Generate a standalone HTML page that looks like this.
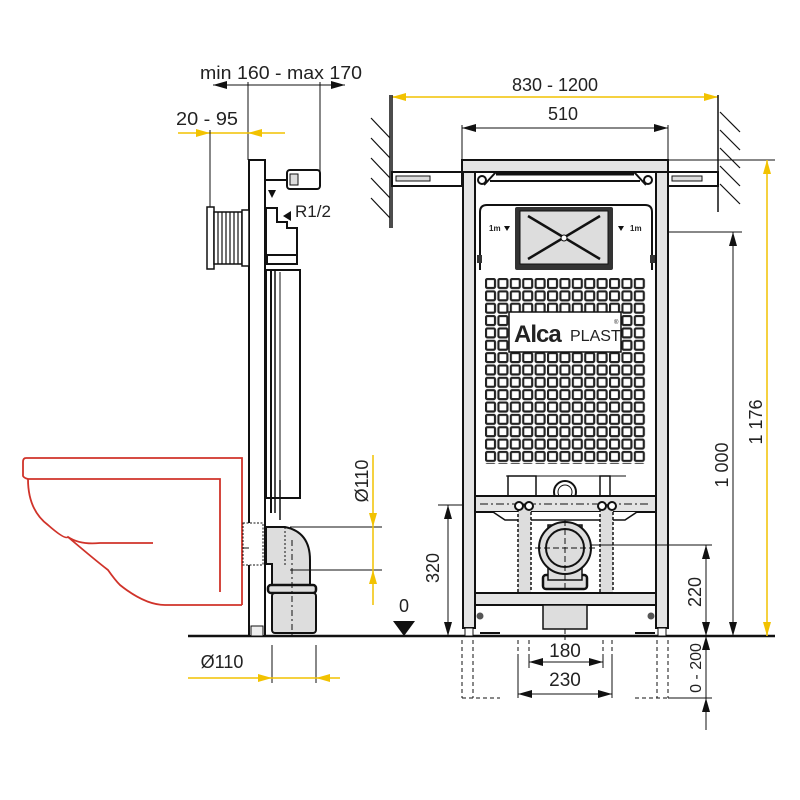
<!DOCTYPE html>
<html><head><meta charset="utf-8"><style>
html,body{margin:0;padding:0;background:#fff}
svg{display:block}
text{font-family:"Liberation Sans",sans-serif;fill:#222}
</style></head><body>
<svg width="800" height="800" viewBox="0 0 800 800" xmlns="http://www.w3.org/2000/svg">
<defs>
<pattern id="sq" x="485" y="278" width="12.4" height="12.35" patternUnits="userSpaceOnUse">
<rect x="1" y="1" width="9" height="9" rx="1.5" fill="#fff" stroke="#222" stroke-width="2.2"/>
</pattern>
<marker id="ab" markerWidth="14" markerHeight="8" refX="14" refY="4" orient="auto" markerUnits="userSpaceOnUse"><path d="M0,0 L14,4 L0,8 Z" fill="#111"/></marker>
<marker id="ay" markerWidth="14" markerHeight="8" refX="14" refY="4" orient="auto" markerUnits="userSpaceOnUse"><path d="M0,0 L14,4 L0,8 Z" fill="#f2c200"/></marker>
</defs>

<line x1="188" y1="636" x2="775" y2="636" stroke="#111" stroke-width="2.5"/>

<!-- ===== SIDE VIEW ===== -->
<text x="200" y="79" font-size="18" textLength="162" lengthAdjust="spacingAndGlyphs">min 160 - max 170</text>
<line x1="213" y1="85" x2="345" y2="85" stroke="#111"/>
<line x1="248" y1="85" x2="213" y2="85" stroke="#111" marker-end="url(#ab)"/>
<line x1="320" y1="85" x2="345" y2="85" stroke="#111" marker-end="url(#ab)"/>
<line x1="248" y1="82" x2="248" y2="160" stroke="#111"/>
<line x1="320" y1="82" x2="320" y2="175" stroke="#111"/>
<text x="176" y="125" font-size="18" textLength="62" lengthAdjust="spacingAndGlyphs">20 - 95</text>
<line x1="178" y1="133" x2="285" y2="133" stroke="#f2c200" stroke-width="1.5"/>
<line x1="185" y1="133" x2="210" y2="133" stroke="#f2c200" marker-end="url(#ay)"/>
<line x1="285" y1="133" x2="248" y2="133" stroke="#f2c200" marker-end="url(#ay)"/>
<line x1="210" y1="130" x2="210" y2="207" stroke="#111"/>

<rect x="249" y="160" width="16" height="476" fill="#fff" stroke="#111" stroke-width="2"/>
<rect x="251" y="626" width="12" height="10" fill="#eee" stroke="#111"/>
<rect x="207" y="207" width="7" height="62" fill="#fff" stroke="#111" stroke-width="1.5"/>
<rect x="214" y="212" width="28" height="52" fill="#fff" stroke="#111" stroke-width="1.5"/>
<g stroke="#111" stroke-width="1.2">
<line x1="218" y1="212" x2="218" y2="264"/><line x1="222" y1="212" x2="222" y2="264"/><line x1="226" y1="212" x2="226" y2="264"/><line x1="230" y1="212" x2="230" y2="264"/><line x1="234" y1="212" x2="234" y2="264"/><line x1="238" y1="212" x2="238" y2="264"/>
</g>
<rect x="242" y="210" width="7" height="56" fill="#fff" stroke="#111" stroke-width="1.5"/>
<line x1="265" y1="180" x2="287" y2="180" stroke="#111" stroke-width="2"/>
<rect x="287" y="170" width="33" height="19" rx="3" fill="#fff" stroke="#111" stroke-width="2"/>
<rect x="290" y="174" width="8" height="11" fill="#ddd" stroke="#111"/>
<path d="M266,208 H277 V222 H287 V228 H297 V262 H266 Z" fill="#fff" stroke="#111" stroke-width="2"/>
<path d="M268,190 L276,190 L272,198 Z" fill="#111"/>
<path d="M283,216 L291,211 L291,221 Z" fill="#111"/>
<text x="295" y="217" font-size="17">R1/2</text>
<rect x="267" y="255" width="30" height="9" fill="#fff" stroke="#111" stroke-width="2"/>
<rect x="266" y="270" width="34" height="228" fill="#fff" stroke="#111" stroke-width="2"/>
<line x1="271" y1="270" x2="271" y2="513" stroke="#111" stroke-width="2"/>
<line x1="275" y1="270" x2="275" y2="513" stroke="#111" stroke-width="1.5"/>
<line x1="280" y1="272" x2="280" y2="505" stroke="#111" stroke-width="1"/>
<line x1="390" y1="95" x2="390" y2="228" stroke="#111" stroke-width="1.5"/>
<g stroke="#111" stroke-width="1.2">
<line x1="371" y1="118" x2="390" y2="138"/><line x1="371" y1="138" x2="390" y2="158"/><line x1="371" y1="158" x2="390" y2="178"/><line x1="371" y1="178" x2="390" y2="198"/><line x1="371" y1="198" x2="390" y2="218"/>
</g>

<g fill="none" stroke="#d0332a" stroke-width="1.8">
<path d="M242,605 V458 H26 Q23,458 23,462 V476 Q24,478 28,479"/>
<path d="M28,479 H220 V592"/>
<path d="M28,479 Q28,510 48,525 Q65,540 68,537 Q95,560 108,570 Q115,580 120,585 Q145,605 165,605 H242"/>
<path d="M68,537 Q80,545 100,543 H153"/>
</g>

<g stroke="#111">
<rect x="243" y="523" width="20" height="42" fill="#fff" stroke-dasharray="2,1.5"/>
<line x1="243" y1="548" x2="249" y2="548"/>
<path d="M266,527 H285 Q310,532 310,560 V585 H272 V564 H266 Z" fill="#ddd" stroke-width="2"/>
<rect x="268" y="585" width="48" height="8" rx="3" fill="#ddd" stroke-width="2.5"/>
<rect x="272" y="593" width="44" height="40" rx="3" fill="#ddd" stroke-width="2"/>
<line x1="292" y1="540" x2="292" y2="636" stroke-dasharray="6,3,2,3"/>
<line x1="285" y1="527" x2="285" y2="565" stroke-dasharray="2,2"/>
</g>
<line x1="280" y1="480" x2="280" y2="520" stroke="#111" stroke-width="1.5"/>
<line x1="290" y1="527" x2="382" y2="527" stroke="#111"/>
<line x1="290" y1="570" x2="382" y2="570" stroke="#111"/>
<line x1="373" y1="455" x2="373" y2="605" stroke="#f2c200" stroke-width="1.5"/>
<line x1="373" y1="505" x2="373" y2="527" stroke="#f2c200" marker-end="url(#ay)"/>
<line x1="373" y1="595" x2="373" y2="570" stroke="#f2c200" marker-end="url(#ay)"/>
<text transform="translate(368,481) rotate(-90)" font-size="18" text-anchor="middle">Ø110</text>
<text x="404" y="612" font-size="18" text-anchor="middle">0</text>
<path d="M393,621 L415,621 L404,636 Z" fill="#111"/>
<text x="222" y="668" font-size="18" text-anchor="middle">Ø110</text>
<line x1="272" y1="645" x2="272" y2="683" stroke="#111"/>
<line x1="316" y1="645" x2="316" y2="683" stroke="#111"/>
<line x1="188" y1="678" x2="340" y2="678" stroke="#f2c200" stroke-width="1.5"/>
<line x1="250" y1="678" x2="272" y2="678" stroke="#f2c200" marker-end="url(#ay)"/>
<line x1="340" y1="678" x2="316" y2="678" stroke="#f2c200" marker-end="url(#ay)"/>

<!-- ===== FRONT VIEW ===== -->
<text x="555" y="91" font-size="18" text-anchor="middle">830 - 1200</text>
<line x1="392" y1="97" x2="718" y2="97" stroke="#f2c200" stroke-width="1.5"/>
<line x1="420" y1="97" x2="392" y2="97" stroke="#f2c200" marker-end="url(#ay)"/>
<line x1="690" y1="97" x2="718" y2="97" stroke="#f2c200" marker-end="url(#ay)"/>
<text x="563" y="120" font-size="18" text-anchor="middle">510</text>
<line x1="462" y1="128" x2="668" y2="128" stroke="#111"/>
<line x1="490" y1="128" x2="462" y2="128" stroke="#111" marker-end="url(#ab)"/>
<line x1="640" y1="128" x2="668" y2="128" stroke="#111" marker-end="url(#ab)"/>
<line x1="462" y1="125" x2="462" y2="160" stroke="#111"/>
<line x1="668" y1="125" x2="668" y2="160" stroke="#111"/>
<line x1="392" y1="95" x2="392" y2="228" stroke="#111" stroke-width="1.5"/>
<line x1="718" y1="95" x2="718" y2="212" stroke="#111" stroke-width="1.5"/>
<g stroke="#111" stroke-width="1.2">
<line x1="720" y1="112" x2="740" y2="132"/><line x1="720" y1="130" x2="740" y2="150"/><line x1="720" y1="148" x2="740" y2="168"/><line x1="720" y1="166" x2="740" y2="186"/><line x1="720" y1="184" x2="740" y2="204"/>
</g>
<rect x="392" y="172" width="70" height="14" fill="#fff" stroke="#111" stroke-width="2"/>
<rect x="396" y="176" width="34" height="5" fill="#ddd" stroke="#111"/>
<rect x="668" y="172" width="50" height="14" fill="#fff" stroke="#111" stroke-width="2"/>
<rect x="672" y="176" width="30" height="5" fill="#ddd" stroke="#111"/>
<rect x="462" y="160" width="206" height="12" fill="#e4e4e4" stroke="#111" stroke-width="2"/>
<rect x="463" y="172" width="12" height="456" fill="#e4e4e4" stroke="#111" stroke-width="2"/>
<rect x="656" y="172" width="12" height="456" fill="#e4e4e4" stroke="#111" stroke-width="2"/>
<rect x="465" y="628" width="8" height="8" fill="#fff" stroke="#111"/>
<rect x="658" y="628" width="8" height="8" fill="#fff" stroke="#111"/>
<path d="M496,172 L484,185 M634,172 L646,185" stroke="#111" stroke-width="2"/>
<line x1="496" y1="174" x2="634" y2="174" stroke="#111" stroke-width="3"/>
<line x1="490" y1="181" x2="640" y2="181" stroke="#111" stroke-width="2"/>
<circle cx="482" cy="180" r="4" fill="#fff" stroke="#111" stroke-width="2"/>
<circle cx="648" cy="180" r="4" fill="#fff" stroke="#111" stroke-width="2"/>
<path d="M480,270 V212 Q480,205 487,205 H645 Q652,205 652,212 V270" fill="#fff" stroke="#111" stroke-width="2"/>
<rect x="515" y="207" width="98" height="63" fill="#333" rx="2"/>
<rect x="520" y="211" width="88" height="53" fill="#ddd" stroke="#111"/>
<line x1="528" y1="216" x2="600" y2="259" stroke="#111" stroke-width="2.5"/>
<line x1="600" y1="216" x2="528" y2="259" stroke="#111" stroke-width="2.5"/>
<circle cx="564" cy="238" r="3" fill="#fff" stroke="#111"/>
<text x="489" y="231" font-size="8" font-weight="bold">1m</text>
<text x="630" y="231" font-size="8" font-weight="bold">1m</text>
<path d="M618,226 L624,226 L621,231 Z M504,226 L510,226 L507,231 Z" fill="#111"/>
<rect x="477" y="255" width="5" height="8" fill="#333"/>
<rect x="650" y="255" width="5" height="8" fill="#333"/>
<rect x="485" y="278" width="161" height="186" fill="url(#sq)"/>
<rect x="509" y="312" width="112" height="40" fill="#fff" stroke="#111" stroke-width="1.5"/>
<text x="514" y="342" font-size="24" font-weight="bold" letter-spacing="-1">Alca</text>
<text x="570" y="341" font-size="16">PLAST</text>
<text x="614" y="324" font-size="6">®</text>
<rect x="508" y="476" width="28" height="20" fill="#fff" stroke="#111" stroke-width="1.5"/>
<rect x="600" y="476" width="10" height="20" fill="#fff" stroke="#111" stroke-width="1.5"/>
<line x1="506" y1="476" x2="626" y2="476" stroke="#111"/>
<circle cx="565" cy="492" r="11" fill="#fff" stroke="#111" stroke-width="2"/>
<circle cx="565" cy="492" r="7" fill="#fff" stroke="#111"/>
<rect x="475" y="496" width="181" height="16" fill="#e4e4e4" stroke="#111" stroke-width="2"/>
<path d="M493,512 L505,520 H625 L637,512" fill="#fff" stroke="#111" stroke-width="1.5"/>
<line x1="480" y1="504" x2="650" y2="504" stroke="#111" stroke-dasharray="8,3,2,3"/>
<rect x="518" y="505" width="13" height="88" fill="#ddd" stroke="#111" stroke-width="1.5" stroke-dasharray="3,2"/>
<rect x="600" y="505" width="13" height="88" fill="#ddd" stroke="#111" stroke-width="1.5" stroke-dasharray="3,2"/>
<g fill="#fff" stroke="#111" stroke-width="2">
<circle cx="519" cy="506" r="4"/><circle cx="529" cy="506" r="4"/><circle cx="602" cy="506" r="4"/><circle cx="612" cy="506" r="4"/>
</g>
<rect x="543" y="575" width="44" height="14" rx="3" fill="#ddd" stroke="#111" stroke-width="2.5"/>
<rect x="548" y="525" width="34" height="55" fill="#ddd" stroke="#111" stroke-width="1.5"/>
<circle cx="565" cy="548" r="26" fill="#ddd" stroke="#111" stroke-width="2"/>
<circle cx="565" cy="548" r="19" fill="#ddd" stroke="#111" stroke-width="2"/>
<line x1="535" y1="548" x2="595" y2="548" stroke="#111" stroke-dasharray="6,3"/>
<line x1="565" y1="520" x2="565" y2="640" stroke="#111" stroke-dasharray="6,3"/>
<rect x="475" y="593" width="181" height="12" fill="#e4e4e4" stroke="#111" stroke-width="2"/>
<rect x="543" y="605" width="44" height="24" fill="#ddd" stroke="#111" stroke-width="1.5"/>
<circle cx="480" cy="616" r="3.5" fill="#555"/><circle cx="651" cy="616" r="3.5" fill="#555"/>
<line x1="480" y1="633" x2="500" y2="633" stroke="#111" stroke-width="2"/>
<line x1="635" y1="633" x2="655" y2="633" stroke="#111" stroke-width="2"/>

<line x1="438" y1="505" x2="463" y2="505" stroke="#111"/>
<line x1="448" y1="505" x2="448" y2="636" stroke="#111"/>
<line x1="448" y1="530" x2="448" y2="505" stroke="#111" marker-end="url(#ab)"/>
<line x1="448" y1="610" x2="448" y2="636" stroke="#111" marker-end="url(#ab)"/>
<text transform="translate(439,568) rotate(-90)" font-size="18" text-anchor="middle">320</text>

<g stroke="#111" stroke-dasharray="4,3">
<line x1="462" y1="640" x2="462" y2="698"/><line x1="473" y1="640" x2="473" y2="698"/>
<line x1="657" y1="640" x2="657" y2="698"/><line x1="668" y1="640" x2="668" y2="698"/>
<line x1="462" y1="698" x2="500" y2="698"/><line x1="635" y1="698" x2="668" y2="698"/>
<line x1="518" y1="640" x2="518" y2="655"/><line x1="529" y1="640" x2="529" y2="655"/>
<line x1="603" y1="640" x2="603" y2="655"/><line x1="612" y1="640" x2="612" y2="655"/>
</g>
<line x1="529" y1="655" x2="529" y2="668" stroke="#111"/>
<line x1="603" y1="655" x2="603" y2="668" stroke="#111"/>
<line x1="518" y1="655" x2="518" y2="698" stroke="#111"/>
<line x1="612" y1="655" x2="612" y2="698" stroke="#111"/>
<text x="565" y="657" font-size="19" text-anchor="middle">180</text>
<line x1="529" y1="662" x2="603" y2="662" stroke="#111"/>
<line x1="555" y1="662" x2="529" y2="662" stroke="#111" marker-end="url(#ab)"/>
<line x1="577" y1="662" x2="603" y2="662" stroke="#111" marker-end="url(#ab)"/>
<text x="565" y="686" font-size="19" text-anchor="middle">230</text>
<line x1="518" y1="694" x2="612" y2="694" stroke="#111"/>
<line x1="545" y1="694" x2="518" y2="694" stroke="#111" marker-end="url(#ab)"/>
<line x1="585" y1="694" x2="612" y2="694" stroke="#111" marker-end="url(#ab)"/>

<line x1="668" y1="160" x2="775" y2="160" stroke="#111"/>
<line x1="668" y1="232" x2="742" y2="232" stroke="#111"/>
<line x1="590" y1="545" x2="712" y2="545" stroke="#111"/>
<line x1="668" y1="698" x2="712" y2="698" stroke="#111"/>
<line x1="733" y1="232" x2="733" y2="636" stroke="#111"/>
<line x1="733" y1="260" x2="733" y2="232" stroke="#111" marker-end="url(#ab)"/>
<line x1="733" y1="608" x2="733" y2="636" stroke="#111" marker-end="url(#ab)"/>
<text transform="translate(728,465) rotate(-90)" font-size="18" text-anchor="middle">1 000</text>
<line x1="767" y1="160" x2="767" y2="636" stroke="#f2c200" stroke-width="1.5"/>
<line x1="767" y1="188" x2="767" y2="160" stroke="#f2c200" marker-end="url(#ay)"/>
<line x1="767" y1="608" x2="767" y2="636" stroke="#f2c200" marker-end="url(#ay)"/>
<text transform="translate(762,422) rotate(-90)" font-size="18" text-anchor="middle">1 176</text>
<line x1="706" y1="545" x2="706" y2="730" stroke="#111"/>
<line x1="706" y1="572" x2="706" y2="545" stroke="#111" marker-end="url(#ab)"/>
<line x1="706" y1="610" x2="706" y2="636" stroke="#111" marker-end="url(#ab)"/>
<line x1="706" y1="662" x2="706" y2="636" stroke="#111" marker-end="url(#ab)"/>
<line x1="706" y1="730" x2="706" y2="698" stroke="#111" marker-end="url(#ab)"/>
<text transform="translate(701,592) rotate(-90)" font-size="18" text-anchor="middle">220</text>
<text transform="translate(701,668) rotate(-90)" font-size="16" text-anchor="middle">0 - 200</text>
</svg>
</body></html>
